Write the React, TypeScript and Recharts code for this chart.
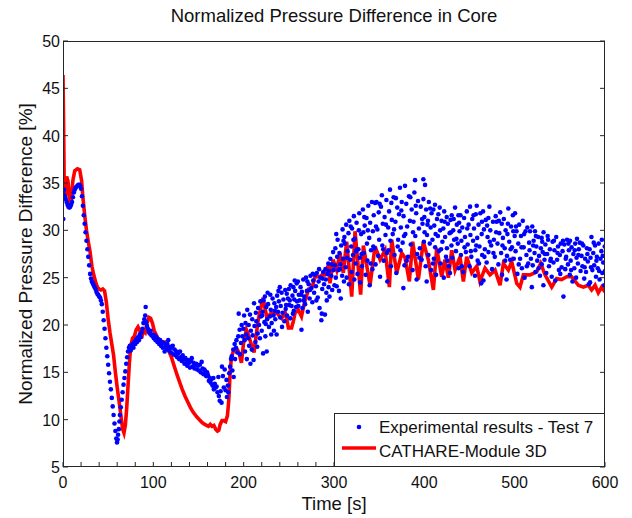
import { ComposedChart, Scatter, Line, XAxis, YAxis } from 'recharts'

type Pt = [number, number]

// Experimental results - Test 7 (time [s], normalized dp [%])
const expStart: Pt[] = [
  [0.3, 31.2], [0.6, 33.8], [1.2, 34.3], [2, 33.6], [3, 33.3], [4, 33.0], [5, 32.7], [6, 32.5],
  [7, 32.4], [8, 32.5], [9, 32.7], [10, 33.0], [11, 33.5], [12, 34.0], [13, 34.3], [14, 34.5],
  [15, 34.6], [16, 34.7], [17, 34.8], [18, 34.8], [19, 34.7], [20, 34.4], [21, 33.6], [22, 32.6],
  [23, 31.6], [24, 30.7], [25, 29.8], [26, 28.9], [27, 28.0], [28, 27.2], [29, 26.3], [30, 25.4],
]

const expDrop: Pt[] = [
  [31, 24.9], [32, 24.6], [33, 24.4], [34, 24.2], [35, 24.0], [36, 23.8], [37, 23.5], [38, 23.3],
  [39, 23.2], [40, 23.0], [41, 22.9], [42, 22.6], [43, 22.2], [44, 21.4], [45, 20.5], [46, 19.6],
  [47, 18.6], [48, 17.6], [49, 16.7], [50, 15.8], [51, 14.9], [52, 14.0], [53, 13.2], [54, 12.3],
  [55, 11.4], [56, 10.5], [57, 9.6], [58, 8.8], [59, 8.0], [59.8, 7.6], [60.5, 7.9], [61, 8.4],
  [61.8, 9.0], [62.5, 9.8], [63, 10.5], [64, 11.3], [65, 12.1], [66, 12.9], [67, 13.7], [68, 14.4],
  [69, 15.1], [70, 15.9], [71, 16.6], [72, 17.2], [73, 17.6], [74, 17.8], [75, 17.3], [76, 17.7],
  [77, 18.0], [78, 17.6], [79, 18.2], [80, 18.0], [81, 18.5], [82, 18.2], [83, 18.7], [84, 18.4],
  [85, 19.0], [86, 18.7], [87, 19.2], [88, 19.6], [89, 20.2], [90, 20.6], [91, 21.0], [91.5, 21.9],
  [92, 20.3], [93, 19.9], [94, 19.6], [95, 19.3], [96, 19.1], [97, 19.4], [98, 18.9], [99, 19.0], [100, 18.8],
]

const expDecline: Pt[] = [
  [100.5, 18.6], [101.5, 18.9], [102.5, 18.4], [103.5, 18.7], [104.5, 18.2], [105.5, 18.5], [106.5, 18.0],
  [107.5, 18.4], [108.5, 17.8], [109.5, 18.2], [110.5, 17.6], [111.5, 18.1], [112.5, 17.2], [113.5, 17.9],
  [114.5, 17.5], [115.5, 18.0], [116.5, 18.4], [117.5, 17.3], [118.5, 17.7], [119.5, 17.1], [120.5, 17.6],
  [121.5, 17.8], [122.5, 16.9], [123.5, 17.4], [124.5, 16.8], [125.5, 17.2], [126.5, 16.6], [127.5, 17.0],
  [128.5, 16.4], [129.5, 17.2], [130.5, 16.6], [131.5, 16.2], [132.5, 16.8], [133.5, 16.4], [134.5, 15.9],
  [135.5, 16.5], [136.5, 16.1], [137.5, 15.7], [138.5, 16.3], [139.5, 16.0], [140.5, 15.5], [141.5, 16.2],
  [142.5, 16.5], [143.5, 15.6], [144.5, 16.0], [145.5, 15.4], [146.5, 15.8], [147.5, 15.9], [148.5, 15.3],
  [149.5, 15.7], [150.5, 15.2], [151.5, 15.8], [152.5, 15.0], [153.5, 16.1], [154.5, 15.4], [155.5, 14.8],
  [156.5, 15.3], [157.5, 15.1], [158.5, 14.6], [159.5, 15.0], [160.5, 14.7], [161.5, 14.1], [162.5, 14.4],
  [163.5, 13.9], [164.5, 14.3], [165.5, 13.6], [166.5, 14.4], [167, 13.2], [168, 13.8], [169, 13.4],
  [170, 13.5], [171, 12.9], [172, 14.5], [172.5, 12.5], [173.5, 12.0], [174.5, 13.0], [175.5, 11.8],
  [176, 15.6], [177, 14.6], [178, 13.4], [179, 15.3], [180, 13.1], [181, 14.2], [181.5, 12.4], [182.5, 13.6],
  [183, 12.9], [184, 14.9], [185, 15.6], [186, 16.4], [186.8, 16.7], [187.5, 15.2], [188.5, 17.4], [189, 14.5],
  [190, 18.0], [190.5, 16.4], [191.5, 17.6], [192, 18.4], [193, 17.1], [194, 18.8], [194.5, 21.2], [195.5, 19.5],
  [196, 16.9], [197, 18.1], [197.8, 20.0], [198.5, 18.8], [199.5, 19.6],
]

const expRise: Pt[] = [
  [200.5, 21.0], [201, 18.4], [201.5, 17.2], [202, 20.2], [203, 19.0], [203.5, 16.4], [204, 21.6], [205, 18.6],
  [205.5, 20.0], [206, 17.8], [207, 21.1], [207.5, 15.9], [208, 19.4], [209, 17.4], [209.5, 20.6], [210, 18.9],
  [211, 16.3], [211.5, 22.3], [212, 19.9], [213, 18.2], [213.5, 21.3], [214, 20.4], [215, 17.7], [215.5, 19.1],
  [216, 21.8], [217, 20.0], [218, 18.6], [218.5, 22.5], [219, 20.9], [220, 19.4], [221, 21.4], [221.5, 17.0],
  [222, 22.6], [223, 20.3], [223.5, 23.0], [224, 18.8], [225, 21.9], [225.5, 17.2], [226, 20.6], [227, 22.2],
  [228, 19.8], [229, 20.9], [229.5, 23.2], [230, 21.6], [231, 20.2], [232, 22.8], [233, 21.0], [233.5, 19.4],
  [234, 22.3], [235, 20.6], [236, 21.9], [236.5, 19.0], [237, 23.1], [238, 21.4], [239, 22.5], [240, 24.0],
  [240.5, 20.8], [241, 22.0], [242, 23.4], [243, 21.3], [244, 22.7], [245, 20.4], [246, 23.7], [247, 22.1],
  [247.7, 23.3], [248, 21.0], [249, 22.8], [250, 23.8], [251, 22.6], [251.5, 20.7], [252, 24.2], [253, 22.0],
  [254, 23.1], [255, 24.0], [255.5, 21.5], [256, 22.7], [257, 23.6], [258, 21.9], [258.7, 24.4], [259, 22.5],
  [260, 24.6], [261, 23.2], [262, 22.6], [263, 24.0], [264, 19.5], [264.5, 23.5], [265, 21.8], [266, 24.8],
  [267, 23.0], [268, 22.2], [269, 25.0], [270, 23.6], [271, 21.4], [272, 24.3], [273, 22.8], [274, 25.2],
  [275, 23.9], [276, 22.4], [277, 24.7], [278, 23.4], [279, 25.3], [280, 24.1], [281, 25.5], [282, 22.9],
  [283, 24.6], [284, 21.8], [285, 25.0], [286, 20.5], [286.5, 21.2], [287, 23.8], [288, 25.6], [289, 24.3],
  [290, 21.1], [290.5, 25.9], [291, 24.8], [292, 22.6], [293, 25.4], [293.7, 26.5], [294, 24.0], [295, 23.0],
  [296, 27.0], [297, 25.2], [298, 23.7], [299, 27.7], [299.5, 25.8],
]

const expPeak: Pt[] = [
  [300.5, 24.2], [301, 26.3], [301.5, 28.1], [302, 25.0], [303, 24.1], [303.5, 27.2], [304, 29.0], [305, 25.8],
  [305.5, 23.6], [306, 27.6], [307, 26.4], [307.5, 22.8], [308, 28.4], [309, 25.2], [309.5, 30.1], [310, 27.0],
  [311, 24.6], [311.5, 29.3], [312, 28.6], [313, 26.1], [313.5, 30.6], [314, 25.0], [315, 27.8], [316, 29.7],
  [316.5, 24.3], [317, 31.0], [318, 26.9], [319, 28.3], [319.5, 25.6], [320, 30.2], [321, 27.4], [322, 31.5],
  [322.5, 24.8], [323, 29.1], [324, 26.5], [325, 30.8], [325.5, 28.0], [326, 25.4], [327, 28.0], [328, 31.8],
  [328.5, 27.1], [329, 24.5], [330, 29.6], [331, 26.2], [332, 32.2], [332.5, 29.8], [333, 27.6], [334, 30.5],
  [335, 25.3], [336, 31.3], [336.5, 28.6], [337, 26.8], [338, 32.6], [339, 29.2], [339.5, 24.2], [340, 30.8],
  [341, 27.9], [342, 33.0], [342.5, 25.9], [343, 29.9], [344, 31.6], [345, 28.1], [345.5, 32.9], [346, 26.4],
  [347, 33.0], [348, 30.1], [349, 27.3], [349.5, 31.9], [350, 29.0], [351, 25.1], [352, 32.5], [353, 33.7],
  [353.5, 28.4], [354, 30.7], [355, 26.8], [356, 31.4], [357, 29.5], [358, 33.2], [358.5, 27.6], [359, 24.6],
  [360, 30.3], [361, 32.0], [362, 34.3], [362.5, 28.9], [363, 26.2], [364, 31.1], [365, 29.6], [366, 33.5],
  [367, 27.4], [368, 30.9], [368.5, 33.4], [369, 25.5], [370, 32.4], [371, 29.0], [372, 31.7], [373, 34.5],
  [373.5, 27.9], [374, 30.3], [375, 33.0], [376, 28.7], [376.8, 23.9], [377, 31.5], [378, 26.3], [378.6, 34.7],
  [379, 29.6], [380, 32.8], [381, 30.4], [382, 27.2], [383, 33.6], [384, 31.0], [385, 28.5], [386, 32.2],
  [387, 25.8], [388, 30.9], [389, 34.0], [389.7, 35.3], [390, 29.4], [391, 31.8], [391.5, 24.8], [392, 27.5],
  [393, 33.1], [394, 30.2], [395, 28.1], [396, 32.5], [397, 26.9], [398, 30.7], [398.9, 35.4], [399, 33.3],
  [399.5, 28.8], [400, 31.4], [400.8, 34.8],
]

const expPlateau: Pt[] = [
  [401.5, 26.2], [402, 32.2], [402.6, 24.6], [403, 29.5], [404, 31.0], [404.5, 27.4], [405, 33.0], [406, 28.6],
  [407, 30.3], [407.5, 25.8], [408, 31.8], [409, 29.0], [410, 32.2], [410.5, 27.0], [411, 30.5], [411.8, 32.7],
  [412, 28.2], [413, 25.3], [414, 31.2], [415, 29.4], [416, 27.8], [417, 32.4], [417.5, 30.0], [418, 26.5],
  [419, 31.0], [420, 28.8], [421, 30.2], [421.5, 25.0], [422, 32.0], [423, 29.3], [424, 27.2], [424.8, 31.4],
  [425, 28.1], [426, 30.7], [427, 26.2], [428, 29.7], [428.4, 25.5], [429, 31.1], [430, 28.4], [430.3, 31.6],
  [431, 27.1], [432, 30.0], [433, 29.0], [434, 32.4], [435, 27.8], [436, 30.6], [437, 28.6], [437.7, 31.6],
  [438, 26.0], [439, 29.9], [440, 31.6], [440.5, 27.4], [441, 28.9], [442, 30.3], [443, 25.6], [444, 31.3],
  [445, 29.3], [446, 27.7], [447, 32.0], [448, 28.5], [449, 30.6], [450, 26.2], [450.6, 32.5], [451, 29.5],
  [452, 27.2], [453, 31.2], [454, 28.9], [455, 30.2], [456, 25.2], [456.5, 27.9], [457, 31.7], [458, 32.6],
  [458.5, 29.2], [459, 26.8], [460, 30.6], [461, 28.3], [462, 31.8], [463, 24.4], [463.5, 29.6], [464, 27.4],
  [465, 32.0], [465.4, 24.7], [466, 30.1], [467, 28.0], [468, 31.1], [469, 26.6], [470, 29.3], [470.9, 31.3],
  [471, 27.7], [472, 32.5], [473, 30.0], [474, 28.4], [475, 25.9], [476, 30.9], [477, 29.0], [478, 27.2],
  [479, 31.5], [480, 30.9], [481, 28.6], [482, 26.4], [483, 29.7], [484, 31.9], [485, 27.6], [485.7, 30.7],
  [486, 25.3], [487, 29.2], [488, 31.2], [489, 28.1], [490, 30.0], [491, 24.8], [491.5, 27.3], [492, 29.6],
  [493, 32.3], [494, 28.8], [495, 26.9], [496, 30.4], [497, 28.2], [498, 31.6], [499, 27.0], [500, 29.4], [500.4, 31.8],
]

const expTail: Pt[] = [
  [501, 27.8], [502, 29.9], [503, 25.4], [504, 28.6], [505, 30.6], [506, 27.0], [507, 29.4], [508, 26.0],
  [509, 31.0], [510, 28.2], [511, 25.0], [512, 29.9], [513, 27.4], [514, 30.3], [515, 26.5], [516, 28.7],
  [517, 29.9], [518, 27.0], [519, 24.0], [519.5, 30.4], [520, 26.3], [521, 28.9], [522, 27.6], [522.5, 29.9],
  [523, 25.6], [524, 28.3], [525, 26.8], [526, 29.3], [527, 27.3], [528, 25.2], [529, 28.1], [529.9, 29.2],
  [530, 26.4], [531, 27.7], [531.8, 24.2], [532, 29.8], [533, 26.9], [534, 28.5], [535, 25.5], [536, 27.5],
  [537, 29.0], [538, 26.2], [539, 28.0], [540, 27.0], [541, 25.1], [542, 28.8], [543, 26.6], [544, 27.9],
  [545, 24.7], [546, 29.3], [547, 26.9], [548, 28.3], [549, 25.8], [550, 27.4], [551, 28.6], [552, 26.1],
  [553, 27.8], [554, 23.0], [555, 28.5], [556, 25.9], [557, 27.2], [558, 29.0], [559, 26.4], [560, 27.9],
  [561, 25.3], [561.3, 28.9], [562, 26.8], [563, 28.2], [564, 24.6], [565, 27.5], [566, 26.0], [567, 28.6],
  [568, 25.0], [568.5, 27.1], [569, 29.1], [570, 26.5], [571, 28.0], [572, 28.7], [573, 25.7], [574, 27.3],
  [575, 26.2], [576, 28.4], [577, 24.9], [578, 27.0], [579, 25.6], [580, 28.1], [581, 26.7], [582, 24.3],
  [583, 28.0], [583.5, 24.5], [584, 27.1], [585, 29.3], [586, 25.8], [587, 27.6], [588, 26.3], [589, 28.4],
  [590, 25.1], [591, 27.2], [592, 26.0], [593, 28.6], [594, 24.8], [595, 27.0], [596, 27.8], [596.5, 29.0],
  [597, 25.5], [598, 26.6], [599, 24.2], [599.7, 28.3], [600, 25.7],
]

// extra samples inside the dense part of the cloud (220..600 s)
const expDense: Pt[] = [
  [220.5, 21.0], [224.5, 20.1], [226.5, 23.4], [230.5, 19.0], [234.5, 21.5], [238.5, 23.6], [242.5, 19.8],
  [246.5, 21.7], [250.5, 22.1], [254.5, 21.2], [256.5, 24.7], [260.5, 22.0], [263.5, 23.2], [266.5, 22.6],
  [270.5, 24.6], [273.5, 23.7], [276.5, 25.4], [280.5, 22.6], [283.5, 25.9], [287.5, 24.9], [291.5, 23.4],
  [294.5, 25.7], [297.5, 26.4],
  [302.5, 29.6], [306.5, 25.9], [310.5, 28.9], [314.5, 27.1], [318.5, 30.4], [321.5, 29.0], [324.5, 27.8],
  [327.5, 30.0], [330.5, 27.5], [333.5, 31.4], [337.5, 30.0], [340.5, 26.5], [343.5, 28.3], [346.5, 30.4],
  [350.5, 32.8], [354.5, 28.0], [357.5, 30.6], [360.5, 27.9], [363.5, 32.9], [366.5, 30.1], [370.5, 28.3],
  [374.5, 32.1], [377.5, 29.4], [380.5, 26.8], [384.5, 33.5], [387.5, 29.8], [390.5, 32.6], [394.5, 27.1],
  [397.5, 31.2], [400.3, 29.8],
  [403.5, 30.6], [406.5, 32.3], [409.5, 26.5], [412.5, 29.6], [415.5, 31.7], [418.5, 28.0], [422.5, 30.9],
  [425.5, 26.8], [429.5, 29.8], [432.5, 31.2], [435.5, 29.1], [438.5, 30.8], [441.5, 26.2], [444.5, 28.2],
  [447.5, 30.2], [451.5, 27.8], [454.5, 31.6], [457.5, 28.4], [460.5, 26.5], [463.8, 30.9], [466.5, 27.2],
  [469.5, 30.5], [472.5, 28.8], [476.5, 27.6], [479.5, 29.8], [482.5, 31.0], [486.5, 28.4], [489.5, 26.8],
  [492.5, 30.7], [495.5, 28.0], [498.5, 29.9],
  [501.5, 30.4], [504.5, 26.4], [507.5, 28.2], [510.5, 29.6], [513.5, 26.2], [516.5, 27.9], [520.5, 28.4],
  [523.5, 29.4], [526.5, 26.0], [530.5, 28.8], [533.5, 27.5], [536.5, 29.4], [539.5, 26.8], [543.5, 28.9],
  [547.5, 27.6], [550.5, 25.4], [553.5, 28.9], [556.5, 27.0], [559.5, 28.6], [562.5, 25.8], [566.5, 27.9],
  [570.5, 27.4], [574.5, 28.6], [577.5, 26.1], [580.5, 27.5], [584.5, 26.1], [587.5, 28.7], [590.5, 26.8],
  [593.5, 25.7], [597.5, 27.3],
]

// CATHARE-Module 3D
const cathareEarly: Pt[] = [
  [0, 46.4], [0.8, 40.0], [1.5, 33.2], [2.5, 33.4], [4, 35.7], [5.5, 35.2], [7.5, 33.0], [9, 33.2],
  [11, 35.3], [13, 36.3], [16, 36.5], [18.5, 36.4], [20.5, 35.3], [22, 33.5], [24, 31.6], [26, 30.0],
  [28, 28.8], [30, 27.7], [32, 26.2], [34, 25.3], [36, 24.6], [38, 24.0], [40, 23.8], [42, 23.7],
  [44, 23.8], [46, 23.6], [48, 22.4], [50, 20.6], [52, 19.2], [54, 18.0], [56, 16.8], [58, 15.0],
  [60, 13.4], [62, 12.0], [64, 10.5], [66, 9.0], [67.5, 8.6], [69, 9.4], [70.5, 11.2], [72, 13.6],
  [73.5, 16.0], [75, 17.8], [77, 18.6], [79, 18.8], [81, 19.5], [83, 19.8], [85, 19.4], [87, 18.6],
  [89, 19.4], [91, 19.2], [93, 20.2], [95, 20.8], [97, 20.7], [99, 20.2],
]

const cathareMid: Pt[] = [
  [101, 19.4], [103, 19.0], [105, 18.6], [107, 18.4], [110, 18.2], [113, 18.2], [115, 17.8], [117, 17.3],
  [120, 16.6], [123, 15.7], [126, 14.8], [129, 14.0], [132, 13.2], [135, 12.5], [138, 11.9], [141, 11.3],
  [144, 10.8], [148, 10.3], [151, 10.0], [154, 9.7], [157, 9.5], [159, 9.4], [161, 9.3], [163, 9.5],
  [165, 9.3], [167, 9.4], [169, 9.0], [171, 8.8], [172.5, 8.9], [174, 9.5], [176, 9.9], [178, 9.9],
  [180, 9.8], [182, 10.4], [183.5, 12.0], [185, 15.0], [186.5, 16.6], [188.5, 17.2], [191, 17.5], [193, 17.4],
  [195, 17.0], [197.5, 16.0], [200, 18.2], [203, 19.5], [205, 19.0], [207, 18.4], [209, 17.8], [211.5, 17.1],
  [213.5, 18.6], [216, 20.5], [219, 21.8], [221.5, 22.9], [223.5, 21.8], [225.5, 20.9], [228, 21.0], [231, 21.3],
  [234, 21.2], [236.6, 21.3], [239, 21.0], [242, 20.7], [244, 21.0], [246, 21.3], [248, 20.5], [249.5, 19.7],
  [253, 19.7], [255, 20.4], [257, 21.3], [260.5, 21.6], [264, 20.9], [266, 21.8], [268, 22.6], [270, 23.2],
  [272, 23.8], [275, 23.9], [277, 24.4], [279, 25.1], [284, 25.1], [287, 25.3], [290, 25.3], [293.7, 26.3],
  [295.6, 24.4], [299, 26.9],
]

const cathareLate: Pt[] = [
  [303, 25.8], [306.6, 27.6], [310.3, 25.5], [314, 28.8], [319.6, 23.0], [323.3, 29.9], [329.5, 23.2],
  [332.5, 28.4], [339.9, 24.2], [345.4, 28.3], [351, 26.9], [356.5, 27.9], [361.3, 24.0], [363.9, 29.0],
  [369.4, 25.5], [375, 27.6], [378.6, 27.1], [383.4, 24.6], [387.1, 28.8], [393.4, 24.8], [398.9, 28.8],
  [404.4, 26.9], [410, 23.7], [413.7, 28.1], [419.2, 25.1], [422.9, 26.9], [426.6, 25.0], [430.3, 27.9],
  [434, 25.8], [439.5, 27.2], [443.2, 24.6], [446.9, 27.2], [452.5, 25.5], [458, 26.2], [461.6, 24.6],
  [467.2, 26.0], [472.7, 25.3], [478.3, 25.8], [483.8, 24.2], [487.5, 26.5], [493, 25.8], [496.7, 26.7],
  [502.3, 24.4], [505.9, 24.0], [509.6, 25.3], [517, 25.3], [524.4, 25.6], [528.8, 26.5], [533.6, 25.3],
  [541, 24.0], [546.5, 24.9], [552, 24.8], [557.6, 25.1], [563.1, 25.1], [570.5, 24.2], [576, 24.0],
  [581.5, 24.2], [585.2, 23.7], [589, 24.2], [592.6, 23.4], [596.3, 24.0], [600, 23.5],
]

const xTicks = [0, 20, 40, 60, 80, 100, 120, 140, 160, 180, 200, 220, 240, 260, 280, 300,
  320, 340, 360, 380, 400, 420, 440, 460, 480, 500, 520, 540, 560, 580, 600]
const xLabels = [0, 100, 200, 300, 400, 500, 600]
const yTicks = [5, 10, 15, 20, 25, 30, 35, 40, 45, 50]

const toRows = (pts: Pt[]) => pts.map(([t, y]) => ({ t, y }))
const experimental = toRows([
  ...expStart, ...expDrop, ...expDecline, ...expRise, ...expPeak, ...expPlateau, ...expTail, ...expDense,
])
const cathare = toRows([...cathareEarly, ...cathareMid, ...cathareLate])

const W = 632
const H = 518
// axes take 1px each, so the plot box lands on 63..605 x 41..467
const M = { top: 40, right: 26, bottom: 50, left: 62 }
const PLOT = { left: 63, right: 605, top: 41, bottom: 467 }
const AXIS = '#262626'
const INK = '#111'
const FONT = '"Liberation Sans", Arial, Helvetica, sans-serif'
const TICK = 5

function BottomTick({ x, payload }: any) {
  const v = payload.value
  const y = PLOT.bottom
  return (
    <g>
      <line x1={x} x2={x} y1={y} y2={y - TICK} stroke={AXIS} />
      {xLabels.includes(v) && (
        <text x={x} y={y + 21} textAnchor="middle" fontSize={16} fill={INK} fontFamily={FONT}>{v}</text>
      )}
    </g>
  )
}

function TopTick({ x }: any) {
  return <line x1={x} x2={x} y1={PLOT.top} y2={PLOT.top + TICK} stroke={AXIS} />
}

function LeftTick({ y, payload }: any) {
  const x = PLOT.left
  return (
    <g>
      <line x1={x} x2={x + TICK} y1={y} y2={y} stroke={AXIS} />
      <text x={x - 3} y={y + 6} textAnchor="end" fontSize={16} fill={INK} fontFamily={FONT}>{payload.value}</text>
    </g>
  )
}

function RightTick({ y }: any) {
  return <line x1={PLOT.right} x2={PLOT.right - TICK} y1={y} y2={y} stroke={AXIS} />
}

const Dot = (p: any) => <circle cx={p.cx} cy={p.cy} r={2.3} fill="#0000ff" />

const axisCommon = {
  type: 'number' as const,
  allowDataOverflow: true,
  interval: 0 as const,
  tickSize: 0,
  tickMargin: 0,
  tickLine: false,
  axisLine: false,
}

export default function App() {
  return (
    <div style={{ position: 'relative', width: W, height: H, background: '#fff' }}>
      <style>{'body{margin:0}'}</style>
      <ComposedChart width={W} height={H} margin={M}>
        <XAxis {...axisCommon} dataKey="t" domain={[0, 600]} ticks={xTicks} height={1} tick={<BottomTick />} />
        <XAxis {...axisCommon} xAxisId="top" orientation="top" domain={[0, 600]} ticks={xTicks} height={1} tick={<TopTick />} />
        <YAxis {...axisCommon} domain={[5, 50]} ticks={yTicks} width={1} tick={<LeftTick />} />
        <YAxis {...axisCommon} yAxisId="right" orientation="right" domain={[5, 50]} ticks={yTicks} width={1} tick={<RightTick />} />
        <Scatter
          name="Experimental results - Test 7"
          data={experimental}
          dataKey="y"
          shape={<Dot />}
          isAnimationActive={false}
        />
        <Line
          name="CATHARE-Module 3D"
          data={cathare}
          dataKey="y"
          type="linear"
          stroke="#ff0000"
          strokeWidth={3.6}
          dot={false}
          activeDot={false}
          isAnimationActive={false}
        />
      </ComposedChart>
      <svg
        width={W}
        height={H}
        style={{ position: 'absolute', left: 0, top: 0, pointerEvents: 'none' }}
        fontFamily={FONT}
        fill={INK}
      >
        <rect
          x={PLOT.left + 0.5}
          y={PLOT.top + 0.5}
          width={PLOT.right - PLOT.left - 1}
          height={PLOT.bottom - PLOT.top - 1}
          fill="none"
          stroke={AXIS}
        />
        <text x={(PLOT.left + PLOT.right) / 2} y={22} textAnchor="middle" fontSize={18.5}>
          Normalized Pressure Difference in Core
        </text>
        <text x={(PLOT.left + PLOT.right) / 2} y={510} textAnchor="middle" fontSize={18.5}>
          Time [s]
        </text>
        <text
          transform={`translate(32, ${(PLOT.top + PLOT.bottom) / 2}) rotate(-90)`}
          textAnchor="middle"
          fontSize={19}
        >
          Normalized Pressure Difference [%]
        </text>
        <g>
          <rect x={334.5} y={413.5} width={PLOT.right - 335} height={PLOT.bottom - 414} fill="#fff" stroke={AXIS} />
          <circle cx={359} cy={427} r={2.3} fill="#0000ff" />
          <text x={379} y={433} fontSize={17}>Experimental results - Test 7</text>
          <line x1={342} x2={376} y1={448} y2={448} stroke="#ff0000" strokeWidth={3.6} />
          <text x={379} y={456.5} fontSize={17}>CATHARE-Module 3D</text>
        </g>
      </svg>
    </div>
  )
}
